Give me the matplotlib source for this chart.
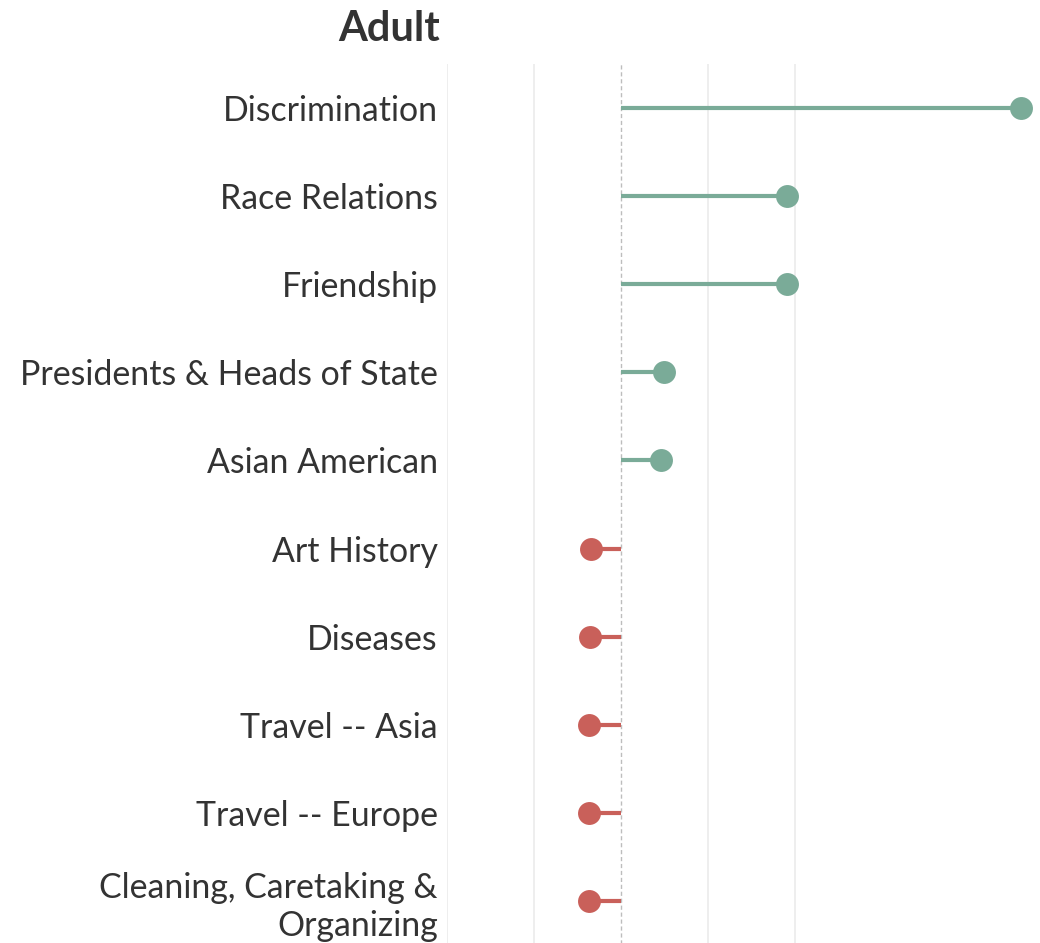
import numpy as np
import matplotlib.pyplot as plt

plt.rcParams['font.family'] = ['Lato', 'DejaVu Sans']

topics = ["Discrimination", "Race Relations", "Friendship",
          "Presidents & Heads of State", "Asian American", "Art History",
          "Diseases", "Travel -- Asia", "Travel -- Europe",
          "Cleaning, Caretaking &\nOrganizing"]
diffs = [4.60, 1.91, 1.91, 0.49, 0.46, -0.34, -0.36, -0.37, -0.37, -0.37]

green = '#7aab98'
red = '#c9605a'

fig = plt.figure(figsize=(10.40, 9.43), dpi=100)
ax = fig.add_axes([447 / 1040, -2 / 943, 593 / 1040, 881 / 943])

y = np.arange(len(topics))
for yi, d in zip(y, diffs):
    c = green if d > 0 else red
    ax.plot([0, d], [yi, yi], color=c, lw=3, solid_capstyle='butt', zorder=2)
    ax.scatter(d, yi, s=16.5 ** 2, color=c, zorder=3, linewidths=0)

for gx in [-2, -1, 1, 2]:
    ax.axvline(gx, color='#ebebeb', lw=1.2, zorder=0)
ax.axvline(0, color='#bdbdbd', lw=1, ls=(0, (3, 2)), zorder=1)

ax.set_xlim(-2, 4.82)
ax.set_ylim(len(topics) - 0.5, -0.5)
ax.set_xticks([])
ax.set_yticks(y)
ax.set_yticklabels(topics, fontsize=24.4, color='#333333', linespacing=1.25)
ax.tick_params(axis='y', length=0, pad=6.5)
for s in ax.spines.values():
    s.set_visible(False)

fig.text(440 / 1040, 1 - 41 / 943, "Adult", ha='right', va='baseline',
         fontsize=30, fontweight='bold', color='#333333')

plt.savefig("out.png", dpi=100)
